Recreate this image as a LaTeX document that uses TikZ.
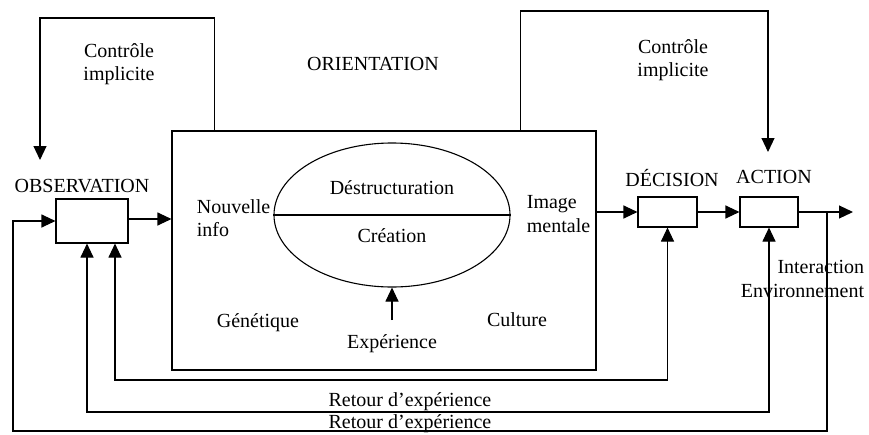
\documentclass[tikz,border=0pt]{standalone}
\usepackage{fontspec}
\setmainfont{Liberation Serif}
\usetikzlibrary{arrows.meta,shapes.geometric}

\begin{document}
\begin{tikzpicture}[x=1pt,y=-1pt,line width=1.1pt,font=\fontsize{20}{23.5}\selectfont,
  box/.style={draw,inner sep=0pt},
  tri/.style={-{Triangle[length=14pt,width=13pt]}},
  tritwo/.style={{Triangle[length=14pt,width=13pt]}-{Triangle[length=14pt,width=13pt]}}]
\useasboundingbox (0,0) rectangle (869,434);
\node[box,minimum width=424pt,minimum height=239pt] (orient) at (384,250.5) {};
\node[box,ellipse,minimum width=236pt,minimum height=144pt] (ell) at (392,215) {};
\node[box,minimum width=72pt,minimum height=44pt] (obsbox) at (92,221) {};
\node[box,minimum width=59pt,minimum height=30pt] (decbox) at (667.5,212) {};
\node[box,minimum width=58pt,minimum height=30pt] (actbox) at (769,212) {};
\node (obslab) at (82,186) {OBSERVATION};
\node (orlab) at (373,64) {ORIENTATION};
\node (declab) at (672,178) {DÉCISION};
\node (actlab) at (774,177) {ACTION};
\node[align=center] (ctlA) at (119,64) {Contrôle\\implicite};
\node[align=center] (ctlB) at (673,60) {Contrôle\\implicite};
\node[align=left,anchor=west] (nouv) at (193,218) {Nouvelle\\info};
\node[align=left,anchor=west] (imag) at (523,214) {Image\\mentale};
\node (destr) at (392,188) {Déstructuration};
\node (crea) at (392,236) {Création};
\node (gen) at (258,323) {Génétique};
\node (expe) at (392,344) {Expérience};
\node (cult) at (517,320) {Culture};
\node[align=right,anchor=east] (inter) at (868,279) {Interaction\\Environnement};
\node (ret1) at (410,402) {Retour d’expérience};
\node (ret2) at (410,424) {Retour d’expérience};
\coordinate (ctlin1) at (40,160);
\coordinate (ctlin2) at (768,152);
\coordinate (out) at (853,212);
\coordinate (br) at (827,212);
\draw (ell.west) -- (ell.east);
\draw[tri] ([xshift=43pt]orient.north west) |- (40,18) -- (ctlin1);
\draw[tri] ([xshift=349pt]orient.north west) |- (768,11) -- (ctlin2);
\draw[tri] (obsbox.east |- 0,219) -- (orient.west |- 0,219);
\draw[tri] (orient.east |- decbox.west) -- (decbox.west);
\draw[tri] (decbox.east) -- (actbox.west);
\draw[tri] (actbox.east) -- (out);
\draw[tri] ([yshift=11pt]expe.north) -- (ell.south);
\draw[tritwo] ([xshift=23pt]obsbox.south) |- (decbox.south |- 0,380) -- (decbox.south);
\draw[tritwo] ([xshift=-5pt]obsbox.south) |- (actbox.south |- 0,412) -- (actbox.south);
\draw[tri] (br) |- (13,431) |- (obsbox.west);
\end{tikzpicture}
\end{document}
